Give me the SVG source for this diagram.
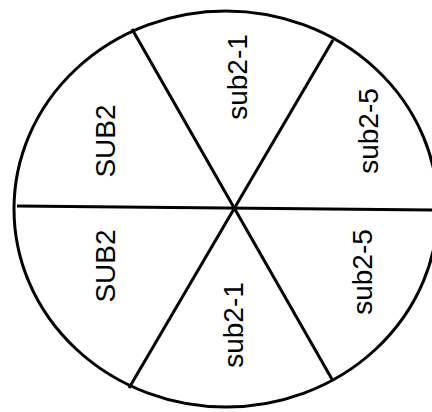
<svg xmlns="http://www.w3.org/2000/svg" width="432" height="412" viewBox="0 0 432 412">
  <style>
    .ln { fill: none; stroke: #000; stroke-width: 3; stroke-linecap: butt; }
    .lbl { font-family: "Liberation Sans", Arial, sans-serif; font-size: 28px; fill: #000; text-anchor: middle; }
  </style>
  <rect width="432" height="412" fill="#fff"/>
  <g id="outline">
    <ellipse class="ln" cx="226" cy="209" rx="212" ry="198"/>
  </g>
  <g id="connectors">
    <line class="ln" x1="17" y1="206" x2="432" y2="210"/>
    <line class="ln" x1="132" y1="29" x2="333" y2="381"/>
    <line class="ln" x1="333" y1="40" x2="129" y2="388"/>
  </g>
  <g id="sector-sub2-top"><text class="lbl" transform="translate(115,141) rotate(-90)">SUB2</text></g>
  <g id="sector-sub2-bottom"><text class="lbl" transform="translate(115,266) rotate(-90)">SUB2</text></g>
  <g id="sector-sub2-1-top"><text class="lbl" transform="translate(247,77) rotate(-90)">sub2-1</text></g>
  <g id="sector-sub2-1-bottom"><text class="lbl" transform="translate(243,325) rotate(-90)">sub2-1</text></g>
  <g id="sector-sub2-5-top"><text class="lbl" transform="translate(378,131) rotate(-90)">sub2-5</text></g>
  <g id="sector-sub2-5-bottom"><text class="lbl" transform="translate(372,272) rotate(-90)">sub2-5</text></g>
</svg>
